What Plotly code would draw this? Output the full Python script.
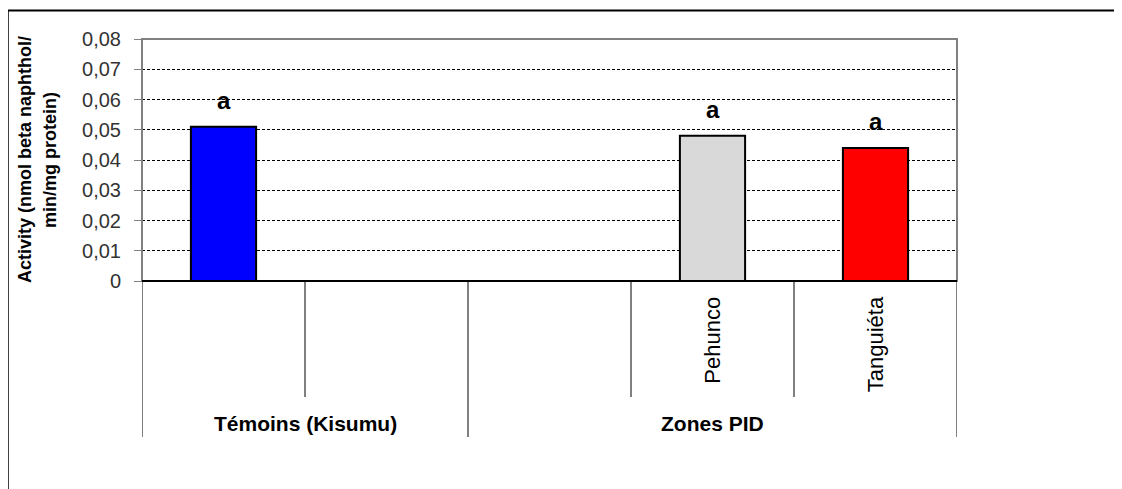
import plotly.graph_objects as go

# ---- data ----
categories = ["Kisumu", "", "", "Pehunco", "Tanguiéta"]
tick_labels = ["", "", "", "Pehunco", "Tanguiéta"]
activity = [0.051, None, None, 0.048, 0.044]
bar_colors = ["#0000FF", "#FFFFFF", "#FFFFFF", "#D9D9D9", "#FF0000"]
letters = ["a", "", "", "a", "a"]
group_labels = ["Témoins (Kisumu)", "Zones PID"]
group_spans = [(0, 1), (2, 4)]
y_ticks = [0, 0.01, 0.02, 0.03, 0.04, 0.05, 0.06, 0.07, 0.08]
y_title_lines = ["Activity (nmol beta naphthol/", "min/mg protein)"]

FONT = "Liberation Sans, Arial, sans-serif"
OFF = 8  # page body margin
W, H = 1122, 489
ML, MT = 142 - OFF, 39 - OFF
PR, PB = 957 - OFF, 281 - OFF
MR, MB = W - PR, H - PB
PW = PR - ML
PH = PB - MT

xs = list(range(len(categories)))

fig = go.Figure()
fig.add_trace(go.Bar(
    x=xs, y=activity, width=0.4,
    marker=dict(color=bar_colors, line=dict(color="black", width=2)),
    hoverinfo="skip", showlegend=False,
))

def px_x(p):
    return (p - OFF - ML) / PW

def px_y(p):
    return (PB - (p - OFF)) / PH

shapes = []
# outer border (left & top)
bx, by = px_x(8.0), px_y(10.5)
shapes.append(dict(type="line", xref="paper", yref="paper", x0=bx, x1=bx, y0=px_y(540), y1=by,
                   line=dict(color="#404040", width=2), layer="above"))
shapes.append(dict(type="line", xref="paper", yref="paper", x0=bx, x1=px_x(1160), y0=by, y1=by,
                   line=dict(color="#000000", width=2), layer="above"))
# plot frame grey
shapes.append(dict(type="rect", xref="paper", yref="paper", x0=0, x1=1, y0=0, y1=1,
                   line=dict(color="#808080", width=2), layer="above"))
# bottom axis line black
shapes.append(dict(type="line", xref="paper", yref="paper", x0=0, x1=1, y0=0, y1=0,
                   line=dict(color="#000000", width=2), layer="above"))

# dividers below the axis
inner_len = px_y(397)
group_len = px_y(437)
group_bounds = set()
for s, e in group_spans:
    group_bounds.add(s - 0.5)
    group_bounds.add(e + 0.5)
for i in range(len(categories) + 1):
    b = i - 0.5
    y1 = group_len if b in group_bounds else inner_len
    shapes.append(dict(type="line", xref="x", yref="paper", x0=b, x1=b, y0=0, y1=y1,
                       line=dict(color="#000000", width=1), layer="above"))

annotations = []
for x, v, t in zip(xs, activity, letters):
    if v is not None and t:
        annotations.append(dict(x=x, y=v, xref="x", yref="y", text=t, showarrow=False,
                                yanchor="bottom", yshift=11,
                                font=dict(family=FONT, size=24, color="black", weight="bold")))
for lab, (s, e) in zip(group_labels, group_spans):
    annotations.append(dict(x=(s + e) / 2, y=px_y(423), xref="x", yref="paper", text=lab,
                            showarrow=False, yanchor="middle", xanchor="center",
                            font=dict(family=FONT, size=21, color="black", weight="bold")))
for line, cx in zip(y_title_lines, [25, 50]):
    annotations.append(dict(x=px_x(cx), y=0.5, xref="paper", yref="paper", text=line,
                            textangle=-90, showarrow=False, xanchor="center", yanchor="middle",
                            font=dict(family=FONT, size=18, color="black", weight="bold")))

fig.update_layout(
    width=W, height=H,
    margin=dict(l=ML, r=MR, t=MT, b=MB, autoexpand=False),
    paper_bgcolor="white", plot_bgcolor="white",
    separators=", ",
    shapes=shapes, annotations=annotations,
    bargap=0.6,
    xaxis=dict(range=[-0.5, len(categories) - 0.5], tickmode="array", tickvals=xs,
               ticktext=tick_labels, tickangle=-90, ticks="outside", ticklen=6,
               tickcolor="rgba(0,0,0,0)", showgrid=False, zeroline=False, showline=False,
               tickfont=dict(family=FONT, size=22, color="black"), fixedrange=True),
    yaxis=dict(range=[0, 0.08], tickmode="array", tickvals=y_ticks,
               ticks="outside", ticklen=7, tickcolor="#808080", tickwidth=1,
               ticklabelstandoff=9,
               showgrid=True, gridcolor="black", gridwidth=1, griddash="3px,2px",
               zeroline=False, showline=False,
               tickfont=dict(family=FONT, size=20, color="#333333"), fixedrange=True),
)

fig.write_html("out.html")
